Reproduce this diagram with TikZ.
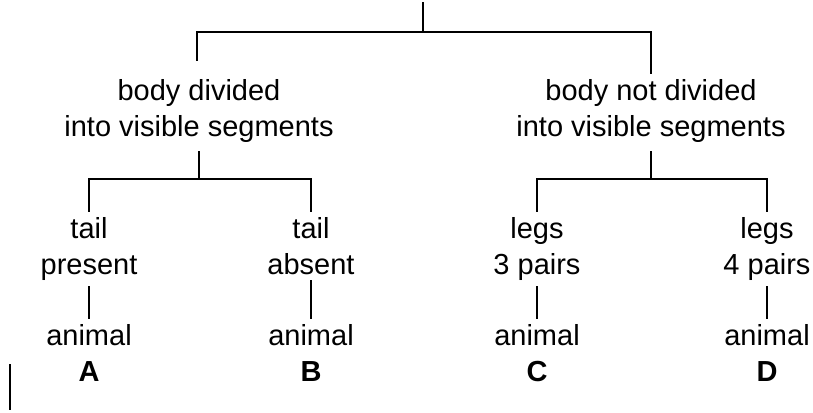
\documentclass[tikz,border=0pt]{standalone}
\usepackage{fontspec}
\setmainfont{Liberation Sans}
\begin{document}
\begin{tikzpicture}[x=1pt,y=-1pt,
  lbl/.style={align=center, font=\fontsize{29}{36}\selectfont, inner xsep=0pt, inner ysep=6pt},
  link/.style={line width=1.6pt, line cap=rect},
  stray/.style={line width=1.2pt}]
\useasboundingbox (0,0) rectangle (813,412);
% nodes
\node[lbl, anchor=north] (seg)  at (199,73) {body divided\\into visible segments};
\node[lbl, anchor=north] (nseg) at (651,73) {body not divided\\into visible segments};
\node[lbl, anchor=north] (tp) at (89,211)  {tail\\present};
\node[lbl, anchor=north] (ta) at (311,211) {tail\\absent};
\node[lbl, anchor=north] (l3) at (537,211) {legs\\3 pairs};
\node[lbl, anchor=north] (l4) at (767,211) {legs\\4 pairs};
\node[lbl, anchor=north] (aA) at (89,318)  {animal\\\textbf{A}};
\node[lbl, anchor=north] (aB) at (311,318) {animal\\\textbf{B}};
\node[lbl, anchor=north] (aC) at (537,318) {animal\\\textbf{C}};
\node[lbl, anchor=north] (aD) at (767,318) {animal\\\textbf{D}};
% junctions
\coordinate (top) at (423,3);
\coordinate (j0)  at (423,32);
\coordinate (j0l) at (197,32);
\coordinate (j0r) at (651,32);
\coordinate (j1) at (seg.south |- 0,179);
\coordinate (j2) at (nseg.south |- 0,179);
\coordinate (s1) at (10,364);
\coordinate (s2) at (10,410);
% connectors
\draw[link] (top) -- (j0);
\draw[link, shorten <=13pt] (j0l |- seg.north) -- (j0l) -- (j0r) -- (j0r |- nseg.north);
\draw[link, shorten <=3pt] (seg.south) -- (j1);
\draw[link, shorten <=3pt] (nseg.south) -- (j2);
\draw[link] (tp.north) |- (j1) -| (ta.north);
\draw[link] (l3.north) |- (j2) -| (l4.north);
\draw[link] (tp) -- (aA);
\draw[link] (ta) -- (aB);
\draw[link] (l3) -- (aC);
\draw[link] (l4) -- (aD);
\draw[stray] (s1) -- (s2);
\end{tikzpicture}
\end{document}
